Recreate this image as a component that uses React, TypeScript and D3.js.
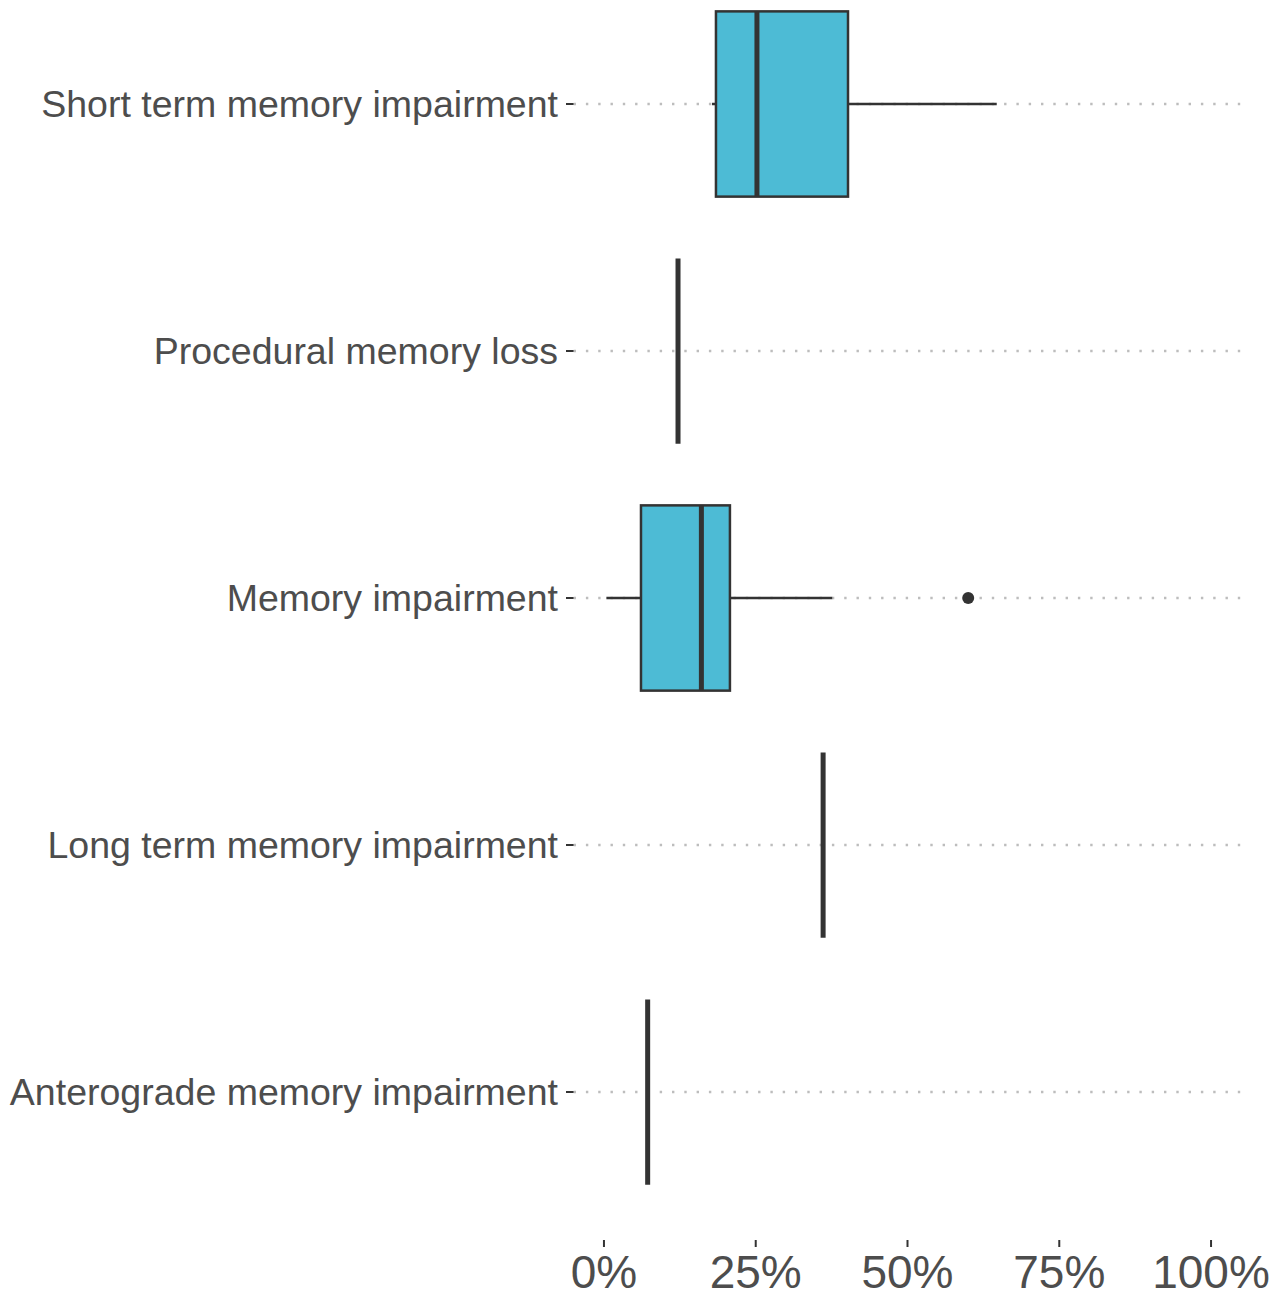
import React from "react";
import * as d3 from "d3";

const categories = [
  "Short term memory impairment",
  "Procedural memory loss",
  "Memory impairment",
  "Long term memory impairment",
  "Anterograde memory impairment",
];
const q1Values = [0.1845, 0.122, 0.061, 0.361, 0.072];
const medianValues = [0.252, 0.122, 0.1605, 0.361, 0.072];
const q3Values = [0.402, 0.122, 0.2075, 0.361, 0.072];
const whiskerLow = [0.178, 0.122, 0.004, 0.361, 0.072];
const whiskerHigh = [0.647, 0.122, 0.376, 0.361, 0.072];
const outlierCategories = ["Memory impairment"];
const outlierValues = [0.6];
const xTicks = [0, 0.25, 0.5, 0.75, 1];

export default function App() {
  const width = 1284;
  const height = 1296;
  const x = d3.scaleLinear().domain([-0.05, 1.05]).range([573.6, 1241.4]);
  const y = d3.scalePoint<string>().domain(categories).range([104, 1092]);
  const step = 247;
  const boxH = step * 0.75;
  const panelBottom = 1240;
  const fmt = d3.format(".0%");
  const dark = "#333333";
  const textCol = "#4d4d4d";
  const font = "Liberation Sans, Arial, sans-serif";

  return (
    <svg width={width} height={height} style={{ position: "absolute", left: 0, top: 0 }}>
      <rect x={0} y={0} width={width} height={height} fill="white" />
      {categories.map((c) => (
        <line key={"g" + c} x1={x.range()[0]} x2={x.range()[1]} y1={y(c)} y2={y(c)}
          stroke="#bdbdbd" strokeWidth={2.4} strokeDasharray="2.4,9.9" />
      ))}
      {categories.map((c, i) => {
        const cy = y(c)!;
        return (
          <g key={"b" + c}>
            <line x1={x(whiskerLow[i])} x2={x(q1Values[i])} y1={cy} y2={cy} stroke={dark} strokeWidth={2.5} />
            <line x1={x(q3Values[i])} x2={x(whiskerHigh[i])} y1={cy} y2={cy} stroke={dark} strokeWidth={2.5} />
            <rect x={x(q1Values[i])} y={cy - boxH / 2} width={x(q3Values[i]) - x(q1Values[i])} height={boxH}
              fill="#4DBBD5" stroke={dark} strokeWidth={2.5} />
            <line x1={x(medianValues[i])} x2={x(medianValues[i])} y1={cy - boxH / 2} y2={cy + boxH / 2}
              stroke={dark} strokeWidth={5} />
          </g>
        );
      })}
      {outlierValues.map((v, i) => (
        <circle key={"o" + i} cx={x(v)} cy={y(outlierCategories[i])} r={6} fill={dark} />
      ))}
      {categories.map((c) => (
        <g key={"t" + c}>
          <line x1={566} x2={573.6} y1={y(c)} y2={y(c)} stroke={dark} strokeWidth={2} />
          <text x={558} y={y(c)} dy="0.35em" textAnchor="end" fontFamily={font} fontSize={37.5} fill={textCol}>
            {c}
          </text>
        </g>
      ))}
      {xTicks.map((t) => (
        <g key={"x" + t}>
          <line x1={x(t)} x2={x(t)} y1={panelBottom} y2={panelBottom + 7} stroke={dark} strokeWidth={2} />
          <text x={x(t)} y={1288} textAnchor="middle" fontFamily={font} fontSize={46} fill={textCol}>
            {fmt(t)}
          </text>
        </g>
      ))}
    </svg>
  );
}
